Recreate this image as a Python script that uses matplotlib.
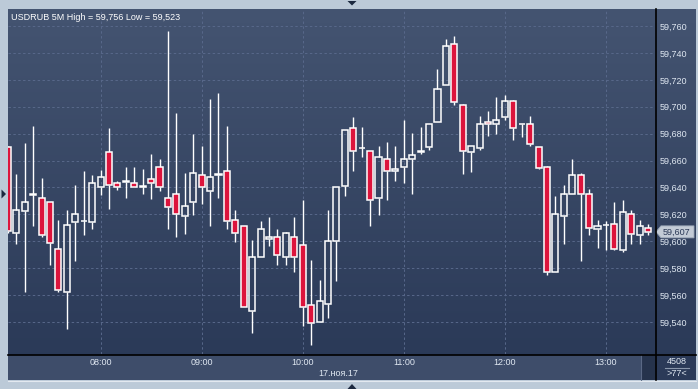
import numpy as np
import matplotlib
matplotlib.use("Agg")
import matplotlib.pyplot as plt
from matplotlib.patches import Rectangle, Polygon
from matplotlib.ticker import FuncFormatter

plt.rcParams['font.family'] = ['Liberation Sans', 'DejaVu Sans']

# ---------------- data ----------------
opens = [59670, 59606.5, 59622.5, 59634.5, 59632.5, 59629.5, 59594, 59562, 59614.5, 59615,
         59614, 59640, 59666, 59643, 59644.5, 59643.5, 59640.5, 59646, 59655, 59632.5,
         59635, 59618.5, 59629.5, 59649.5, 59637.5, 59649.5, 59652, 59615.5, 59611, 59548.5,
         59588.5, 59601.5, 59603, 59588.5, 59603, 59597.5, 59552.5, 59540, 59553.5, 59600,
         59641, 59684, 59669, 59667, 59632, 59661.5, 59652, 59655.5, 59661.5, 59666.5,
         59670, 59689, 59716, 59746.5, 59701, 59666, 59669.5, 59689, 59687.5, 59692,
         59704, 59687, 59687.5, 59670, 59655, 59577, 59618.5, 59635, 59649.5, 59635,
         59609, 59612, 59612.5, 59593.5, 59620, 59605, 59609.5]
highs = [59671, 59650, 59673, 59686, 59647, 59629.5, 59615.5, 59623.5, 59642, 59652,
         59649, 59653, 59684, 59645, 59655, 59655, 59654, 59664.5, 59661.5, 59756,
         59695, 59650.5, 59680, 59670.5, 59706, 59710, 59686, 59623, 59611, 59601,
         59615, 59618, 59609, 59607, 59618, 59631, 59586, 59571, 59623, 59640,
         59683, 59692.5, 59685, 59667, 59671, 59674, 59671, 59690, 59680.5, 59685,
         59687.5, 59728, 59750, 59752.5, 59702, 59670.5, 59693, 59697, 59707, 59709,
         59705, 59687.5, 59693, 59670, 59656, 59634, 59641.5, 59661.5, 59650.5, 59638.5,
         59615.5, 59615, 59629, 59631, 59623, 59615.5, 59612.5]
lows = [59606, 59598, 59562.5, 59611.5, 59603.5, 59582, 59562, 59534.5, 59585.5, 59604.5,
        59609, 59634.5, 59624, 59638, 59632.5, 59640, 59635.5, 59631.5, 59637.5, 59609,
        59603.5, 59605.5, 59619.5, 59628, 59611.5, 59632.5, 59609, 59599.5, 59551, 59531.5,
        59588.5, 59596.5, 59582, 59582.5, 59577.5, 59537, 59523, 59540, 59543, 59570.5,
        59633.5, 59652.5, 59663, 59611.5, 59619.5, 59631, 59644.5, 59643, 59635.5, 59664.5,
        59667.5, 59689, 59716, 59701, 59650, 59651.5, 59667.5, 59678, 59680, 59690.5,
        59675.5, 59677.5, 59670.5, 59654, 59575, 59577, 59598, 59635, 59585, 59605,
        59595, 59593.5, 59593.5, 59592, 59598, 59598, 59605]
closes = [59608, 59623.5, 59629.5, 59634.5, 59605, 59598.5, 59563.5, 59612, 59620, 59615,
          59643, 59647.5, 59641.5, 59640, 59644, 59640, 59640.5, 59643, 59640, 59625.5,
          59620, 59626.5, 59650.5, 59640, 59647.5, 59649.5, 59615, 59606, 59551.5, 59588,
          59609, 59603.5, 59589.5, 59606, 59588.5, 59551.5, 59539.5, 59555.5, 59600.5, 59640,
          59683, 59667, 59669, 59631, 59663, 59652.5, 59654, 59661, 59664, 59666.5,
          59687.5, 59713.5, 59745, 59703.5, 59667, 59670.5, 59687.5, 59687, 59690.5, 59704.5,
          59684.5, 59687, 59672, 59654.5, 59577.5, 59620, 59635.5, 59649, 59635.5, 59609.5,
          59611, 59612, 59594.5, 59621.5, 59605.5, 59611, 59607]

hour_labels = ["08:00", "09:00", "10:00", "11:00", "12:00", "13:00"]
hour_index = [11, 23, 35, 47, 59, 71]
price_ticks = list(range(59540, 59761, 20))
title = "USDRUB 5M High = 59,756 Low = 59,523"
date_label = "17.ноя.17"
last_price = 59607
last_label = "59,607"
volume_label = "4508"
count_label = ">77<"

# ---------------- figure ----------------
W, H = 698, 389
fig = plt.figure(figsize=(W / 100, H / 100), dpi=100)
fig.patch.set_facecolor('#bccad8')

def rect(l, t, r, b):
    return [l / W, 1 - b / H, (r - l) / W, (b - t) / H]

# gradient background of the panel
bg = fig.add_axes(rect(8, 9, 696, 380), zorder=0)
grad = np.linspace(0, 1, 256).reshape(-1, 1)
top_c = np.array([0x44, 0x54, 0x71]) / 255
bot_c = np.array([0x29, 0x38, 0x56]) / 255
img = top_c[None, None, :] * (1 - grad[:, :, None]) + bot_c[None, None, :] * grad[:, :, None]
bg.imshow(img, aspect='auto', extent=[0, 1, 0, 1], origin='upper')
bg.set_axis_off()

# main chart axes
ax = fig.add_axes(rect(8, 9, 655, 354), zorder=1)
ax.set_facecolor('none')
x0_px, step_px = 7.9, 8.423
ax.set_xlim((8 - x0_px) / step_px, (655 - x0_px) / step_px)
ax.set_ylim(59760 - (354 - 26) / 1.3455, 59760 + (26 - 9) / 1.3455)

x = np.arange(len(opens))
o = np.array(opens); c = np.array(closes); hi = np.array(highs); lo = np.array(lows)
top = np.maximum(o, c); bot = np.minimum(o, c)
ax.vlines(x, top, hi, color='white', lw=1.0, zorder=3)
ax.vlines(x, lo, bot, color='white', lw=1.0, zorder=3)
bear = c < o
ax.bar(x[bear], (top - bot)[bear], bottom=bot[bear], width=0.72,
       facecolor='#dc143c', edgecolor='white', linewidth=1.1, zorder=4)
ax.bar(x[~bear], np.maximum((top - bot)[~bear], 0.3), bottom=bot[~bear], width=0.72,
       facecolor='none', edgecolor='white', linewidth=1.1, zorder=4)

ax.set_yticks(price_ticks)
ax.yaxis.set_major_formatter(FuncFormatter(lambda v, p: f"{int(v):,}"))
ax.yaxis.tick_right()
ax.tick_params(axis='y', length=0, pad=3, labelsize=6.5, labelcolor='#dfe7f1')
ax.set_xticks(hour_index)
ax.tick_params(axis='x', length=0, labelbottom=False)
ax.grid(True, color='#58688a', linestyle=(0, (2.5, 2.5)), linewidth=0.7, zorder=1)
for s in ax.spines.values():
    s.set_visible(False)
ax.text(3 / 647, 1 - 8 / 345, title, transform=ax.transAxes, color='white',
        fontsize=6.5, va='center', ha='left', zorder=6)

# overlay in pixel coordinates
ov = fig.add_axes([0, 0, 1, 1], zorder=2)
ov.set_xlim(0, W); ov.set_ylim(H, 0)
ov.set_axis_off()
ov.patch.set_visible(False)

# time strip
ov.add_patch(Rectangle((8, 355), 647, 25, facecolor='#3e4d6a', edgecolor='none'))
ov.add_patch(Rectangle((641, 355), 14, 25, facecolor='#26334c', edgecolor='none'))
ov.plot([641, 641], [355, 380], color='#5a6884', lw=0.8)
ov.add_patch(Rectangle((655, 355), 41, 25, facecolor='#2b3a58', edgecolor='none'))
ov.plot([8, 696], [354.5, 354.5], color='black', lw=1.2)
ov.plot([655.5, 655.5], [9, 380], color='black', lw=1.2)
ov.plot([8, 696], [380.5, 380.5], color='#e3e9f0', lw=0.8)

for idx, lab in zip(hour_index, hour_labels):
    ov.text(x0_px + idx * step_px, 362.5, lab, color='#dfe7f1', fontsize=6.5,
            ha='center', va='center')
ov.text(338, 373.3, date_label, color='#dfe7f1', fontsize=6.5, ha='center', va='center')
ov.text(677, 361.5, volume_label, color='#dfe7f1', fontsize=6.5, ha='center', va='center')
ov.plot([665, 689], [367.5, 367.5], color='#8a97ac', lw=0.8)
ov.text(677, 374, count_label, color='#dfe7f1', fontsize=6.5, ha='center', va='center')

# last price tag
yl = 26 + (59760 - last_price) * 1.3455
ov.add_patch(Polygon([[656, yl], [661, yl - 6], [694, yl - 6], [694, yl + 6], [661, yl + 6]],
                     closed=True, facecolor='#c3cbd6', edgecolor='#9aa6b6', lw=0.6))
ov.text(676, yl, last_label, color='#2a3856', fontsize=6.5, ha='center', va='center')

# small triangle markers
ov.add_patch(Polygon([[347.5, 1], [356.5, 1], [352, 5.5]], closed=True, facecolor='#1c2940'))
ov.add_patch(Polygon([[347.5, 389], [356.5, 389], [352, 384]], closed=True, facecolor='#1c2940'))
ov.add_patch(Polygon([[1.5, 189.5], [1.5, 198.5], [6, 194]], closed=True, facecolor='#1c2940'))

fig.savefig('out.png', dpi=100, facecolor=fig.get_facecolor())
